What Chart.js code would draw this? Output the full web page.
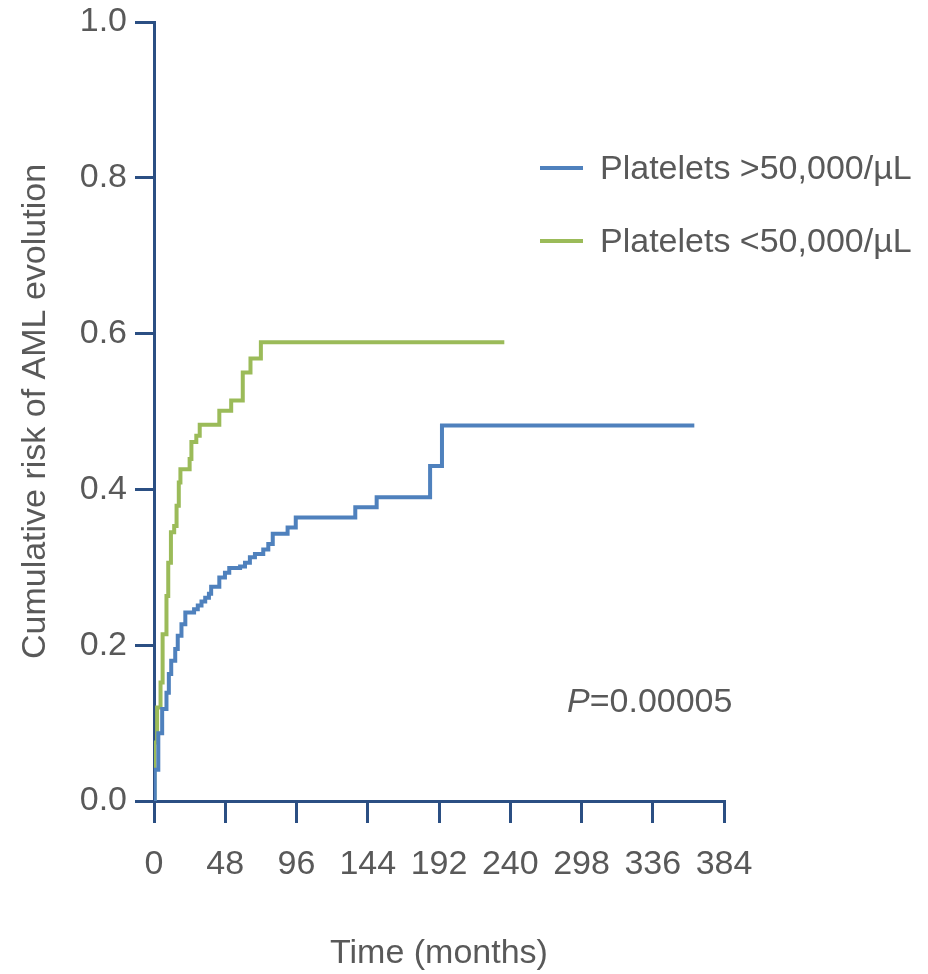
<!DOCTYPE html>
<html>
<head>
<meta charset="utf-8">
<script src="https://cdn.jsdelivr.net/npm/chart.js@4"></script>
<style>
  body { margin: 0; background: #fff; }
  #wrap { width: 928px; height: 974px; }
</style>
</head>
<body>
<div id="wrap"><canvas id="riskChart" width="928" height="974"></canvas></div>
<script>
// time axis
const xTickLabels = ['0', '48', '96', '144', '192', '240', '298', '336', '384'];
const yTickLabels = ['0.0', '0.2', '0.4', '0.6', '0.8', '1.0'];

// Platelets >50,000/uL (months, cumulative risk)
const highTimes = [0, 0.5, 2.9, 5.5, 8.4, 10, 11.6, 14.3, 16, 18.5, 21.1, 27, 29.5, 32, 34.5, 37, 38.5, 44, 47.8, 50.7, 58, 61.3, 64.6, 68, 73.6, 77, 80, 90, 95.5, 135.6, 150, 186, 194, 364];
const highRisk  = [0, 0.04, 0.087, 0.118, 0.139, 0.163, 0.18, 0.195, 0.212, 0.227, 0.242, 0.246, 0.251, 0.256, 0.261, 0.266, 0.275, 0.287, 0.293, 0.299, 0.301, 0.306, 0.313, 0.317, 0.323, 0.33, 0.343, 0.351, 0.364, 0.377, 0.39, 0.43, 0.482, 0.482];

// Platelets <50,000/uL
const lowTimes = [0, 0.3, 2.1, 4.4, 5.8, 8.4, 9.6, 11.4, 13.6, 15.2, 16.7, 17.8, 24, 25.2, 28.5, 30.8, 44, 52, 59.8, 65, 72, 236];
const lowRisk  = [0, 0.075, 0.12, 0.152, 0.214, 0.263, 0.306, 0.345, 0.353, 0.379, 0.409, 0.426, 0.439, 0.461, 0.469, 0.483, 0.501, 0.514, 0.55, 0.568, 0.589, 0.589];

const pText = '=0.00005';

const navy = '#2b4f83';
const grey = '#595959';
const fontFam = '"Liberation Sans", Arial, sans-serif';
const fontSize = 34;

const toPoints = (xs, ys) => xs.map((x, i) => ({ x: x, y: ys[i] }));

// legend + p value drawn on top
const overlay = {
  id: 'overlay',
  afterDraw(chart) {
    const ctx = chart.ctx;
    ctx.save();
    ctx.font = fontSize + 'px ' + fontFam;
    ctx.textBaseline = 'middle';
    chart.data.datasets.forEach((ds, i) => {
      const y = 168 + i * 73;
      ctx.strokeStyle = ds.borderColor;
      ctx.lineWidth = 4;
      ctx.beginPath();
      ctx.moveTo(540, y);
      ctx.lineTo(583, y);
      ctx.stroke();
      ctx.fillStyle = grey;
      ctx.fillText(ds.label, 600, y + 2);
    });
    ctx.font = 'italic ' + fontSize + 'px ' + fontFam;
    ctx.fillText('P', 567, 703);
    const w = ctx.measureText('P').width;
    ctx.font = fontSize + 'px ' + fontFam;
    ctx.fillText(pText, 567 + w, 703);
    ctx.restore();
  }
};

new Chart(document.getElementById('riskChart'), {
  type: 'line',
  data: {
    datasets: [{
      label: 'Platelets >50,000/µL',
      data: toPoints(highTimes, highRisk),
      borderColor: '#4f81bd',
      borderWidth: 4,
      stepped: true,
      pointRadius: 0,
      fill: false
    }, {
      label: 'Platelets <50,000/µL',
      data: toPoints(lowTimes, lowRisk),
      borderColor: '#9bbb59',
      borderWidth: 4,
      stepped: true,
      pointRadius: 0,
      fill: false
    }]
  },
  options: {
    responsive: false,
    animation: false,
    layout: { padding: { top: 22, right: 204, bottom: 0, left: 0 } },
    plugins: {
      legend: { display: false },
      tooltip: { enabled: false }
    },
    scales: {
      x: {
        type: 'linear',
        min: 0,
        max: 384,
        afterFit: s => { s.height = 173; s.paddingLeft = 0; s.paddingRight = 0; },
        ticks: {
          stepSize: 48,
          autoSkip: false,
          maxRotation: 0,
          padding: 21,
          color: grey,
          font: { size: fontSize, family: fontFam },
          callback: (v, i) => xTickLabels[i]
        },
        grid: { display: true, drawOnChartArea: false, drawTicks: true, tickLength: 22, color: navy, lineWidth: 3 },
        border: { display: true, color: navy, width: 3 },
        title: {
          display: true,
          text: 'Time (months)',
          color: grey,
          font: { size: fontSize, family: fontFam },
          padding: { top: 0, bottom: 0 }
        }
      },
      y: {
        min: 0,
        max: 1,
        afterFit: s => { s.width = 154; s.paddingTop = 0; s.paddingBottom = 0; },
        ticks: {
          stepSize: 0.2,
          padding: 8,
          color: grey,
          font: { size: fontSize, family: fontFam },
          callback: (v, i) => yTickLabels[i]
        },
        grid: { display: true, drawOnChartArea: false, drawTicks: true, tickLength: 19, color: navy, lineWidth: 3 },
        border: { display: true, color: navy, width: 3 },
        title: {
          display: true,
          text: 'Cumulative risk of AML evolution',
          color: grey,
          font: { size: fontSize, family: fontFam },
          padding: { top: 15, bottom: 0 }
        }
      }
    }
  },
  plugins: [overlay]
});
</script>
</body>
</html>
